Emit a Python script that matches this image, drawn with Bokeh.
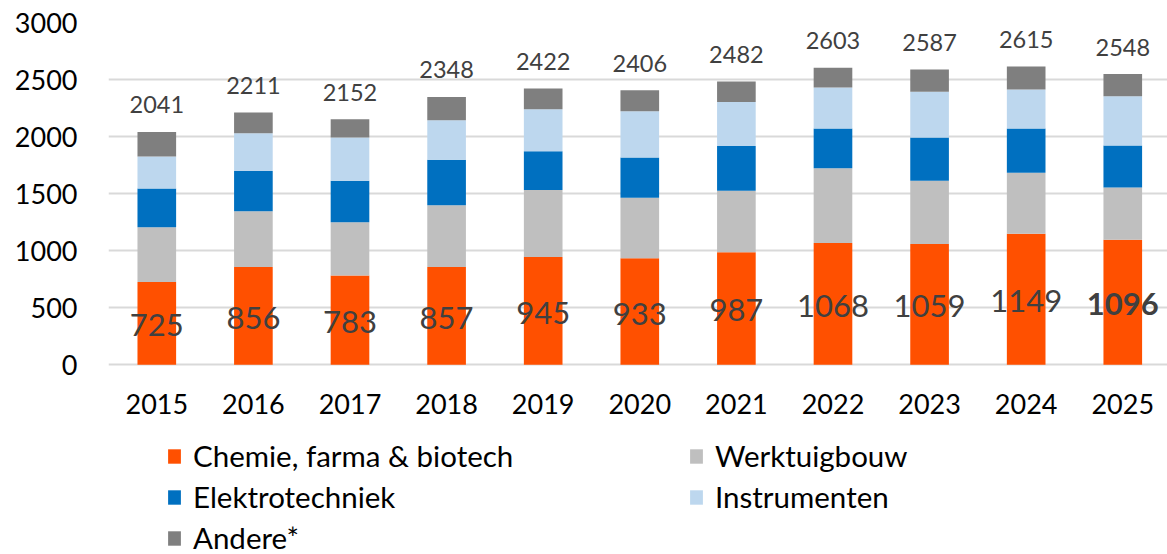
from bokeh.plotting import figure
from bokeh.models import ColumnDataSource, Range1d, FixedTicker, Legend, LegendItem
from bokeh.core.properties import value, field
from bokeh.embed import file_html
from bokeh.resources import INLINE

# ---- data ----
years = [2015, 2016, 2017, 2018, 2019, 2020, 2021, 2022, 2023, 2024, 2025]
chemie = [725, 856, 783, 857, 945, 933, 987, 1068, 1059, 1149, 1096]
werktuigbouw = [480, 489, 466, 541, 587, 532, 539, 654, 555, 535, 457]
elektrotechniek = [339, 354, 365, 400, 339, 351, 392, 348, 377, 386, 368]
instrumenten = [281, 330, 377, 345, 369, 406, 386, 360, 401, 342, 433]
andere = [216, 182, 161, 205, 182, 184, 178, 173, 195, 203, 194]
totals = [2041, 2211, 2152, 2348, 2422, 2406, 2482, 2603, 2587, 2615, 2548]
y_ticks = [0, 500, 1000, 1500, 2000, 2500, 3000]
series_names = ["Chemie, farma & biotech", "Werktuigbouw", "Elektrotechniek",
                "Instrumenten", "Andere*"]
colors = ["#FF5000", "#BFBFBF", "#0070C0", "#BDD7EE", "#7F7F7F"]
highlight_year = 2025

FONT = "Lato"

src = ColumnDataSource(dict(
    year=years,
    chemie=chemie,
    werktuigbouw=werktuigbouw,
    elektrotechniek=elektrotechniek,
    instrumenten=instrumenten,
    andere=andere,
    total=totals,
    total_str=[str(t) for t in totals],
    chem_mid=[c / 2 for c in chemie],
    chem_str=[str(c) for c in chemie],
    style=["bold" if y == highlight_year else "normal" for y in years],
))

W, H = 1167, 554
# frame spans the whole lower part so that the legend (drawn inside it) is not clipped;
# value 0 sits at y=364 px, 3000 at the frame top (y=22 px)
p = figure(width=W, height=H, output_backend="svg", toolbar_location=None,
           x_range=Range1d(2014.5, 2025.463), y_range=Range1d(-1663, 3000),
           min_border_left=108, min_border_right=0, min_border_top=22,
           min_border_bottom=0)
p.outline_line_color = None
p.background_fill_color = "white"
p.border_fill_color = "white"

stackers = ["chemie", "werktuigbouw", "elektrotechniek", "instrumenten", "andere"]
rs = p.vbar_stack(stackers, x="year", width=0.4, source=src,
                  fill_color=colors, line_color=None)

# value labels inside the orange segments
p.text(x="year", y="chem_mid", text="chem_str", source=src,
       text_align="center", text_baseline="middle", y_offset=2,
       text_font=value(FONT), text_font_size="31px",
       text_font_style=field("style"), text_color="#404040")

# totals above the bars
p.text(x="year", y="total", text="total_str", source=src,
       text_align="center", text_baseline="middle", y_offset=-27,
       text_font=value(FONT), text_font_size="23.5px", text_color="#404040")

# axes
p.xaxis.ticker = FixedTicker(ticks=years)
p.xaxis.fixed_location = 0
p.yaxis.ticker = FixedTicker(ticks=y_ticks)
for ax in (p.xaxis, p.yaxis):
    ax.axis_line_color = None
    ax.major_tick_line_color = None
    ax.minor_tick_line_color = None
    ax.major_tick_out = 0
    ax.major_tick_in = 0
    ax.major_label_text_font = FONT
    ax.major_label_text_font_size = "27px"
    ax.major_label_text_color = "black"
p.xaxis.major_label_standoff = 29
p.yaxis.major_label_standoff = 31

p.xgrid.visible = False
p.ygrid.grid_line_color = "#D9D9D9"
p.ygrid.grid_line_width = 2

def make_legend(idx, loc):
    items = [LegendItem(label=series_names[i], renderers=[rs[i]]) for i in idx]
    return Legend(items=items, location=loc, orientation="vertical",
                  glyph_width=16, glyph_height=18, label_standoff=11,
                  label_text_font=FONT, label_text_font_size="29.5px",
                  label_text_color="black", label_height=41, spacing=0,
                  padding=0, margin=0, border_line_color=None,
                  background_fill_alpha=0)

p.add_layout(make_legend([0, 2, 4], (58, -4)))
p.add_layout(make_legend([1, 3], (580, 37)))

open("out.html", "w").write(file_html(p, INLINE))
